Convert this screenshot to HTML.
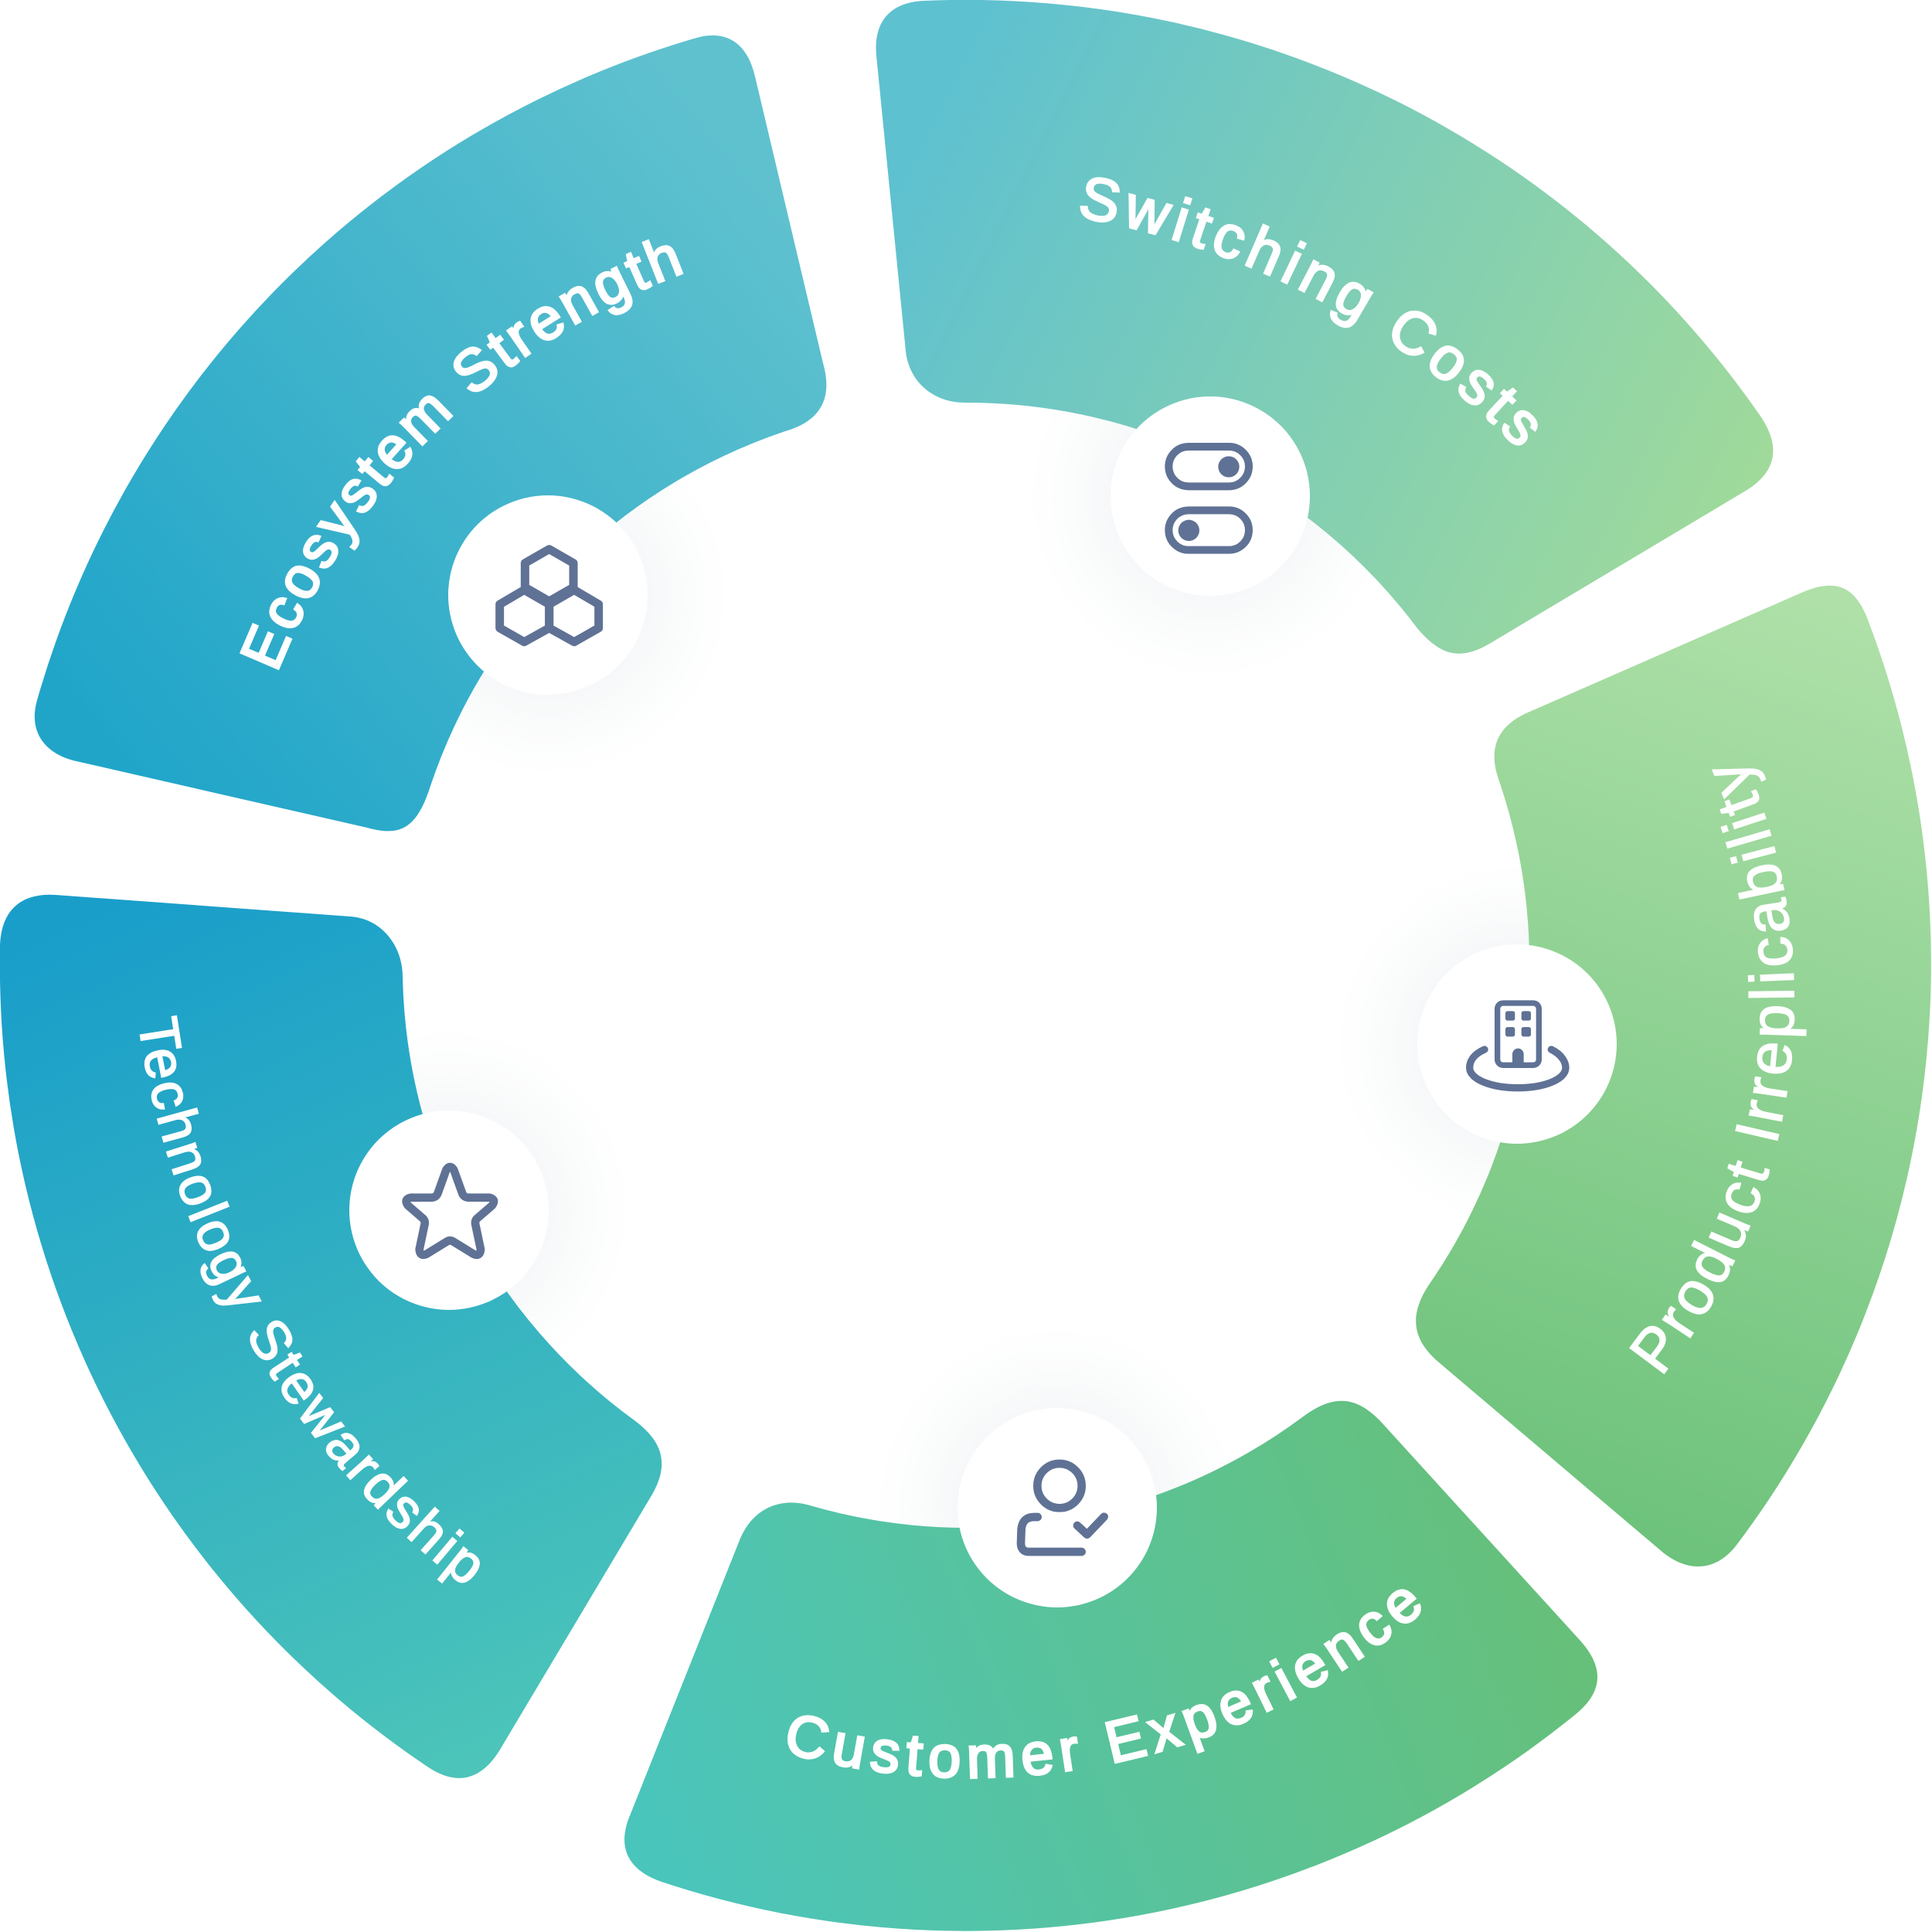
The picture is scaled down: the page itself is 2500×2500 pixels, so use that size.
<!DOCTYPE html>
<html>
<head>
<meta charset="utf-8">
<style>
html,body{margin:0;padding:0;background:#fff;width:2500px;height:2500px;overflow:hidden}
svg{display:block}
text{font-family:"Liberation Sans",sans-serif;fill:#fff;stroke:#fff}
.ic{fill:none;stroke:#5f7295;stroke-linejoin:round;stroke-linecap:round}
</style>
</head>
<body>
<svg width="2500" height="2500" viewBox="0 0 2500 2500" xmlns="http://www.w3.org/2000/svg">
<defs>
<linearGradient id="g1" gradientUnits="userSpaceOnUse" x1="1150" y1="250" x2="2250" y2="800"><stop offset="0" stop-color="#5ec1d0"/><stop offset="1" stop-color="#a3db98"/></linearGradient>
<linearGradient id="g2" gradientUnits="userSpaceOnUse" x1="2350" y1="780" x2="1900" y2="2050"><stop offset="0" stop-color="#aee0a8"/><stop offset="1" stop-color="#66bf77"/></linearGradient>
<linearGradient id="g3" gradientUnits="userSpaceOnUse" x1="850" y1="2400" x2="2000" y2="1950"><stop offset="0" stop-color="#4ac5bc"/><stop offset="1" stop-color="#67c078"/></linearGradient>
<linearGradient id="g4" gradientUnits="userSpaceOnUse" x1="200" y1="1150" x2="700" y2="2270"><stop offset="0" stop-color="#199eca"/><stop offset="1" stop-color="#4dc5b9"/></linearGradient>
<linearGradient id="g5" gradientUnits="userSpaceOnUse" x1="130" y1="950" x2="1000" y2="250"><stop offset="0" stop-color="#20a5c9"/><stop offset="1" stop-color="#5fc1ce"/></linearGradient>
<radialGradient id="sh"><stop offset="0.55" stop-color="#f6f8f9"/><stop offset="0.76" stop-color="#fbfcfc"/><stop offset="1" stop-color="#ffffff"/></radialGradient>
<path id="t1" d="M1393 280A1053 1053 0 0 1 2100 750" fill="none"/>
<path id="t2" d="M358 871A909 909 0 0 1 1204 295" fill="none"/>
<path id="t3" d="M179 1321A1120 1120 0 0 0 900 2218" fill="none"/>
<path id="t4" d="M1012 2266A900 900 0 0 0 1957 1965" fill="none"/>
<path id="t5" d="M2149 1782A777 777 0 0 0 2000 665" fill="none"/>
</defs>

<!-- soft shadows -->
<circle cx="1566" cy="642" r="235" fill="url(#sh)"/>
<circle cx="709" cy="770" r="235" fill="url(#sh)"/>
<circle cx="1963" cy="1351" r="235" fill="url(#sh)"/>
<circle cx="1368" cy="1951" r="235" fill="url(#sh)"/>
<circle cx="581" cy="1566" r="235" fill="url(#sh)"/>

<!-- segments -->
<path fill="url(#g1)" d="M1196 1C1150 3 1130 30 1134 72L1172 454C1176 494 1208 521 1248 521A729 729 0 0 1 1834 813C1866 851 1892 854 1929 832L2259 635C2302 609 2303 574 2277 537A1250 1250 0 0 0 1196 1Z"/>
<path fill="url(#g2)" d="M2331 767C2377 747 2401 760 2417 802A1250 1250 0 0 1 2248 1998C2222 2033 2186 2036 2152 2009L1862 1763C1824 1731 1825 1698 1850 1661A730 730 0 0 0 1939 1008C1926 970 1936 940 1977 922Z"/>
<path fill="url(#g3)" d="M1789 1842L2044 2122C2078 2159 2073 2191 2038 2219A1250 1250 0 0 1 856 2435C818 2422 795 2395 816 2347L957 1993C974 1951 1010 1937 1048 1948A728 728 0 0 0 1685 1834C1725 1804 1755 1805 1789 1842Z"/>
<path fill="url(#g4)" d="M72 1158C27 1155 0 1178 0 1228A1250 1250 0 0 0 553 2286C590 2311 622 2305 647 2264L842 1937C868 1894 857 1865 821 1838A728 728 0 0 1 521 1264C521 1224 494 1189 454 1186Z"/>
<path fill="url(#g5)" d="M901 49C939 38 967 55 977 99L1065 470C1078 515 1062 545 1016 558A730 730 0 0 0 556 1020C538 1075 515 1082 475 1071L99 985C55 975 37 944 48 906A1250 1250 0 0 1 901 49Z"/>

<!-- labels -->
<text font-size="78" letter-spacing="7.400" stroke-width="2.800"><textPath href="#t1">Switching Costs</textPath></text>
<text font-size="76" letter-spacing="4.900" stroke-width="3.200"><textPath href="#t2">Ecosystem Strength</textPath></text>
<text font-size="72" letter-spacing="4.200" stroke-width="2"><textPath href="#t3">Technology Stewardship</textPath></text>
<text font-size="76" letter-spacing="8.800" stroke-width="3.200"><textPath href="#t4">Customer Experience</textPath></text>
<text font-size="80" letter-spacing="4.900" stroke-width="1.600"><textPath href="#t5">Product Irreplicability</textPath></text>

<!-- circles -->
<circle cx="1566" cy="642" r="129" fill="#fff"/>
<circle cx="709" cy="770" r="129" fill="#fff"/>
<circle cx="1963" cy="1351" r="129" fill="#fff"/>
<circle cx="1368" cy="1951" r="129" fill="#fff"/>
<circle cx="581" cy="1566" r="129" fill="#fff"/>

<!-- hexagons -->
<g transform="translate(560 620) scale(.33333)" class="ic" stroke-width="33">
<path d="M452 272L546 326V420L452 474L358 420V326Z"/>
<path d="M355 430L452 486V578L355 632L260 578V486Z"/>
<path d="M549 430L644 486V578L549 632L452 578V486Z"/>
</g>
<!-- toggles -->
<g transform="translate(1410 480) scale(.33333)">
<rect x="307" y="294" width="311" height="154" rx="77" class="ic" stroke-width="30"/>
<circle cx="540" cy="372" r="41" fill="#5f7295"/>
<rect x="307" y="541" width="311" height="154" rx="77" class="ic" stroke-width="30"/>
<circle cx="385" cy="619" r="41" fill="#5f7295"/>
</g>
<!-- building -->
<g transform="translate(1820 1190) scale(.33333)">
<rect x="353" y="324" width="161" height="241" rx="22" class="ic" stroke-width="22"/>
<g fill="#5f7295">
<rect x="384" y="355" width="37" height="37" rx="8"/>
<rect x="446" y="355" width="37" height="37" rx="8"/>
<rect x="384" y="417" width="37" height="37" rx="8"/>
<rect x="446" y="417" width="37" height="37" rx="8"/>
<path d="M411 560V522a22 22 0 0 1 44 0V560Z"/>
</g>
<path class="ic" stroke-width="28" d="M303 504C255 525 245 555 245 575C245 620 330 653 432 653C535 653 618 620 618 575C618 555 605 525 562 504"/>
</g>
<!-- person -->
<g transform="translate(1210 1790) scale(.33333)" class="ic" stroke-width="32">
<circle cx="483" cy="398" r="86"/>
<path d="M398 519H385Q340 519 335 565L333 620Q333 654 365 654H569"/>
<path d="M552 552L590 587L656 518"/>
</g>
<!-- star -->
<g transform="translate(420 1410) scale(.33333)" class="ic" stroke-width="32">
<path d="M472 312Q487 288 502 312L533 398Q539 419 560 419H640Q668 425 650 450L592 500Q582 510 586 525L606 620Q604 650 578 638L500 590Q487 582 474 590L396 638Q370 650 368 620L388 525Q392 510 382 500L324 450Q306 425 334 419H414Q435 419 441 398Z"/>
</g>
</svg>
</body>
</html>
